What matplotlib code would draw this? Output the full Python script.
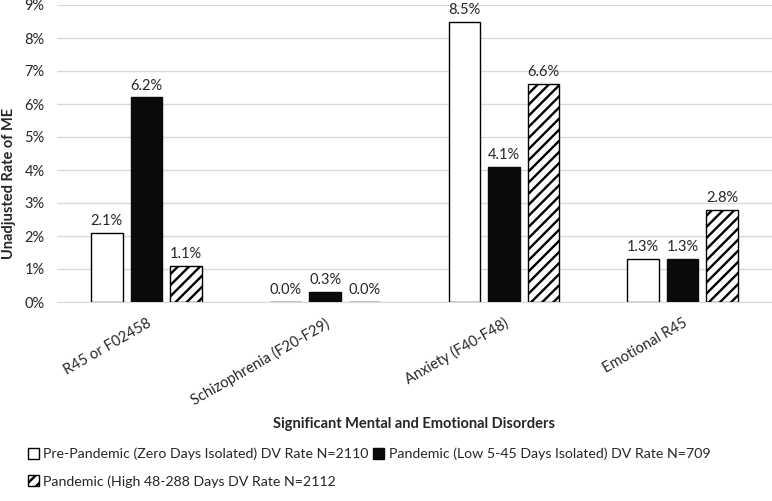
import numpy as np
import matplotlib
matplotlib.use("Agg")
import matplotlib.pyplot as plt

categories = ["R45 or F02458", "Schizophrenia (F20-F29)", "Anxiety (F40-F48)", "Emotional R45"]
pre_pandemic = [2.1, 0.0, 8.5, 1.3]
pandemic_low = [6.2, 0.3, 4.1, 1.3]
pandemic_high = [1.1, 0.0, 6.6, 2.8]
series_names = [
    "Pre-Pandemic (Zero Days Isolated) DV Rate N=2110",
    "Pandemic (Low 5-45 Days Isolated) DV Rate N=709",
    "Pandemic (High 48-288 Days DV Rate N=2112",
]
y_ticks = [0, 1, 2, 3, 4, 5, 6, 7, 8, 9]

plt.rcParams["font.family"] = ["Lato", "DejaVu Sans"]
plt.rcParams["hatch.linewidth"] = 1.7
text_color = "#262626"

fig = plt.figure(figsize=(7.72, 5.01), dpi=100)
ax = fig.add_axes([57 / 772, 199 / 501, 715 / 772, 297 / 501])

x = np.arange(len(categories))
width = 0.176
step = 0.221

bars_pre = ax.bar(x - step, pre_pandemic, width, color="white", edgecolor="black",
                  linewidth=1.0, label=series_names[0], zorder=3)
bars_low = ax.bar(x, pandemic_low, width, color="#0a0a0a", edgecolor="#0a0a0a",
                  linewidth=1.0, label=series_names[1], zorder=3)
bars_high = ax.bar(x + step, pandemic_high, width, color="white", edgecolor="black",
                   hatch="///", linewidth=1.0, label=series_names[2], zorder=3)

for bars in (bars_pre, bars_low, bars_high):
    ax.bar_label(bars, labels=[f"{v:.1f}%" for v in bars.datavalues], padding=3.5,
                 fontsize=10.5, color=text_color)

ax.set_xlim(-0.5, len(categories) - 0.5)
ax.set_ylim(0, 9)
ax.set_yticks(y_ticks)
ax.set_yticklabels([f"{t}%" for t in y_ticks], fontsize=10.5, color=text_color)
ax.set_xticks(x)
ax.set_xticklabels(categories, rotation=30, ha="right", rotation_mode="anchor",
                   fontsize=10.5, color=text_color)
ax.tick_params(axis="y", length=0, pad=9)
ax.tick_params(axis="x", length=0, pad=10)

ax.grid(axis="y", color="#d9d9d9", linewidth=1.0, zorder=0)
for side in ("top", "right", "left"):
    ax.spines[side].set_visible(False)
ax.spines["bottom"].set_color("#d9d9d9")

ax.set_ylabel("Unadjusted Rate of ME", fontsize=10.5, fontweight="bold",
              color=text_color, va="center")
ax.yaxis.set_label_coords(-0.067, 0.40)
fig.text(414 / 772, 1 - 424 / 501, "Significant Mental and Emotional Disorders",
         ha="center", va="center", fontsize=10.5, fontweight="bold", color=text_color)

handles = [bars_pre, bars_high, bars_low]
labels = [series_names[0], series_names[2], series_names[1]]
fig.legend(handles, labels, ncol=2, loc="upper left", bbox_to_anchor=(15 / 772, 1 - 435 / 501),
           frameon=False, fontsize=10.2, handlelength=0.8, handleheight=0.8,
           handletextpad=0.3, columnspacing=0.3, labelspacing=1.05, labelcolor=text_color)

fig.savefig("out.png", dpi=100)
